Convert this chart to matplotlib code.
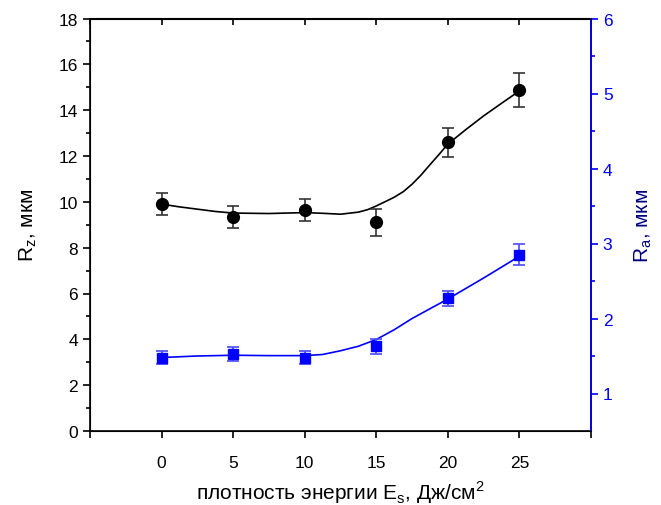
import numpy as np
import matplotlib
matplotlib.use('Agg')
import matplotlib.pyplot as plt

plt.rcParams['font.family'] = ['Liberation Sans', 'DejaVu Sans']
plt.rcParams['mathtext.fontset'] = 'custom'
plt.rcParams['mathtext.rm'] = 'Liberation Sans'

# measured points
E = [0, 5, 10, 15, 20, 25]
Rz = [9.9, 9.35, 9.64, 9.1, 12.59, 14.88]
Rz_err = [0.49, 0.47, 0.47, 0.6, 0.64, 0.73]
Ra = [1.48, 1.53, 1.48, 1.63, 2.27, 2.85]
Ra_err = [0.09, 0.09, 0.09, 0.1, 0.1, 0.14]

# smooth fit curves
Ez_fit = [0, 1.25, 2.5, 3.75, 5, 7.5, 10, 11.25, 12.5, 13.75, 14.4, 15, 15.6, 16.25,
          16.9, 17.5, 18.1, 18.75, 19.4, 20, 21.25, 22.5, 23.75, 25]
Rz_fit = [9.9, 9.78, 9.68, 9.58, 9.51, 9.49, 9.53, 9.5, 9.46, 9.55, 9.66, 9.82, 10.0, 10.2,
          10.45, 10.77, 11.15, 11.62, 12.08, 12.52, 13.15, 13.75, 14.3, 14.84]
Ea_fit = [0, 2.5, 5, 7.5, 10, 11.25, 12.5, 13.75, 15, 16.25, 17.5, 18.75, 20, 22.5, 25]
Ra_fit = [1.48, 1.50, 1.51, 1.505, 1.505, 1.52, 1.57, 1.63, 1.72, 1.85, 2.0, 2.13, 2.26, 2.54, 2.83]

xticks = [-5, 0, 5, 10, 15, 20, 25, 30]
xticklabels = ['', '0', '5', '10', '15', '20', '25', '']

fig = plt.figure(figsize=(6.61, 5.06), dpi=100)
ax = fig.add_axes([90/661, 74/506, 501/661, 412.5/506])

ax.plot(Ez_fit, Rz_fit, color='black', linewidth=1.2)
ax.errorbar(E, Rz, yerr=Rz_err, fmt='o', color='black', ecolor='#333333',
            markersize=8.5, capsize=4, elinewidth=1.2, capthick=1.2)
ax.set_xlim(-5, 30)
ax.set_ylim(0, 18)
ax.set_yticks(np.arange(0, 19, 2))
ax.set_yticks(np.arange(1, 18, 2), minor=True)
ax.set_xticks(xticks)
ax.set_xticklabels(xticklabels)
ax.tick_params(axis='both', which='major', direction='out', length=5, width=1.2, labelsize=12.5)
ax.tick_params(axis='y', which='minor', direction='out', length=3, width=1.2)
ax.tick_params(axis='x', pad=12)
for s in ax.spines.values():
    s.set_linewidth(1.2)
ax.set_xlabel(r'плотность энергии E$_\mathrm{s}$, Дж/см$^\mathrm{2}$', fontsize=15, labelpad=6)
ax.set_ylabel(r'R$_\mathrm{z}$, мкм', fontsize=15, labelpad=14)

top = ax.secondary_xaxis('top')
top.set_xticks(xticks)
top.tick_params(direction='in', length=5, width=1.2, labeltop=False)

ax2 = ax.twinx()
ax2.plot(Ea_fit, Ra_fit, color='#0000ff', linewidth=1.2)
ax2.errorbar(E, Ra, yerr=Ra_err, fmt='s', color='#0000ff', ecolor='#4a4aff',
             markersize=7.5, capsize=4, elinewidth=1.2, capthick=1.2)
ax2.set_ylim(0.5, 6)
ax2.set_yticks([1, 2, 3, 4, 5, 6])
ax2.set_yticks([1.5, 2.5, 3.5, 4.5, 5.5], minor=True)
ax2.tick_params(axis='y', which='major', direction='out', length=5, width=1.2,
                colors='#0000ff', labelsize=12.5)
ax2.tick_params(axis='y', which='minor', direction='out', length=3, width=1.2, colors='#0000ff')
ax2.spines['right'].set_color('#0000ff')
ax2.spines['right'].set_linewidth(1.2)
ax2.set_ylabel(r'R$_\mathrm{a}$, мкм', fontsize=15, color='#000080', labelpad=14)

fig.savefig('out.png', dpi=100)
